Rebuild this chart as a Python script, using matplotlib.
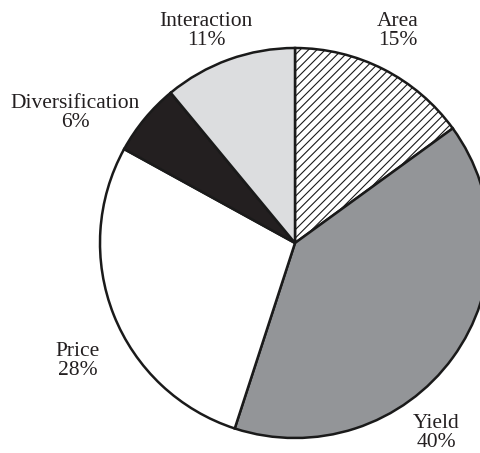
import matplotlib.pyplot as plt

# shares of the change, clockwise from 12 o'clock
labels = ['Area', 'Yield', 'Price', 'Diversification', 'Interaction']
shares = [15, 40, 28, 6, 11]
colors = ['white', '#939598', 'white', '#231f20', '#dcdddf']
hatches = ['////', '', '', '', '']

plt.rcParams['font.family'] = ['Liberation Serif', 'DejaVu Serif']
plt.rcParams['hatch.linewidth'] = 0.8

fig = plt.figure(figsize=(4.81, 4.53), dpi=100)
ax = fig.add_axes([0, 0, 1, 1])

wedges, _ = ax.pie(shares, colors=colors, startangle=90, counterclock=False,
                   center=(295, 210), radius=195,
                   wedgeprops=dict(edgecolor='#1a1a1a', linewidth=1.8))
for w, h in zip(wedges, hatches):
    if h:
        w.set_hatch(h)

# label positions (pixel space, y up)
label_xy = [(398, 422), (436, 20), (78, 92), (75, 340), (206, 422)]
for lab, val, (x, y) in zip(labels, shares, label_xy):
    ax.text(x, y, f'{lab}\n{val}%', ha='center', va='center', fontsize=15.5,
            linespacing=1.05, color='#231f20')

ax.set_xlim(0, 481)
ax.set_ylim(0, 453)
ax.set_aspect('equal')
ax.axis('off')

fig.savefig('out.png', dpi=100)
